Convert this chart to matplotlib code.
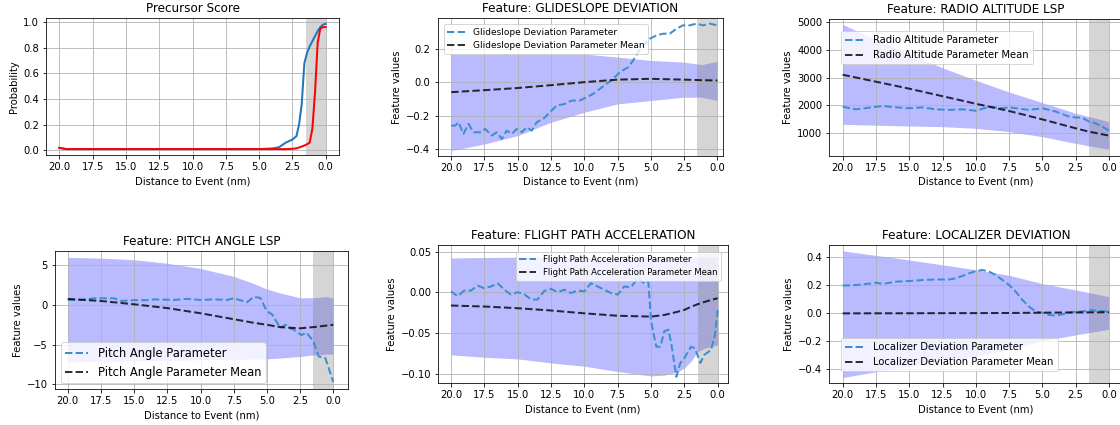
import numpy as np
import matplotlib
matplotlib.use("Agg")
import matplotlib.pyplot as plt

# ---- data ----
# panel 1: precursor score
score_x = [20, 19.5, 15, 10, 5, 4, 3.5, 3, 2.5, 2.2, 2.0, 1.8, 1.6, 1.4, 1.2, 1.0, 0.8, 0.6, 0.4, 0.2, 0.0]
score_blue = [0.02, 0.01, 0.01, 0.01, 0.01, 0.015, 0.025, 0.06, 0.085, 0.11, 0.2, 0.36, 0.68, 0.76, 0.81,
              0.85, 0.89, 0.93, 0.96, 0.98, 0.985]
score_red = [0.02, 0.01, 0.01, 0.01, 0.01, 0.01, 0.01, 0.01, 0.012, 0.016, 0.022, 0.03, 0.038, 0.048, 0.06,
             0.17, 0.45, 0.84, 0.95, 0.96, 0.96]

# panel 2: glideslope deviation
gs_x = [20.0, 19.7, 19.45, 19.08, 18.7, 18.33, 17.83, 17.45, 16.95, 16.58, 16.2, 15.83, 15.45, 15.08, 14.7,
        14.33, 13.95, 13.58, 13.08, 12.58, 12.08, 11.45, 10.95, 10.33, 9.83, 9.33, 8.83, 8.33, 7.83, 7.33,
        6.7, 6.33, 5.95, 5.58, 5.08, 4.58, 4.08, 3.58, 3.08, 2.58, 2.08, 1.58, 1.08, 0.58, 0.0]
gs_param = [-0.26, -0.26, -0.24, -0.31, -0.25, -0.30, -0.30, -0.28, -0.32, -0.30, -0.34, -0.29, -0.31, -0.28,
            -0.30, -0.27, -0.29, -0.24, -0.22, -0.18, -0.14, -0.13, -0.11, -0.11, -0.09, -0.07, -0.04, -0.01,
            0.02, 0.06, 0.09, 0.13, 0.18, 0.22, 0.26, 0.28, 0.29, 0.29, 0.32, 0.34, 0.34, 0.35, 0.34, 0.35, 0.34]
gs_band_x = [20, 17.5, 15, 12.5, 10, 7.5, 5, 2.5, 1.2, 0]
gs_upper = [0.17, 0.17, 0.17, 0.17, 0.168, 0.15, 0.13, 0.12, 0.105, 0.125]
gs_lower = [-0.41, -0.37, -0.32, -0.24, -0.18, -0.13, -0.11, -0.09, -0.09, -0.11]
gs_mean = [-0.06, -0.048, -0.035, -0.018, 0.0, 0.015, 0.02, 0.015, 0.012, 0.01]

# panel 3: radio altitude
ra_x = [20, 19, 18, 17, 16, 15, 14, 13, 12, 11, 10, 9, 8, 7.5, 7, 6, 5, 4, 3, 2.5, 2, 1.5, 1, 0.5, 0]
ra_param = [1955, 1860, 1920, 1980, 1930, 1900, 1930, 1860, 1840, 1860, 1810, 1950, 1900, 1930, 1900,
            1840, 1900, 1780, 1600, 1570, 1560, 1420, 1360, 1240, 1100]
ra_band_x = [20, 17.5, 15, 12.5, 10, 7.5, 5, 2.5, 1.5, 0]
ra_upper = [4900, 4350, 3850, 3350, 2900, 2480, 2100, 1720, 1600, 1420]
ra_lower = [1320, 1290, 1263, 1240, 1180, 1060, 880, 640, 550, 430]
ra_mean = [3100, 2850, 2600, 2330, 2060, 1800, 1500, 1180, 1060, 920]

# panel 4: pitch angle
pa_x = [20, 19, 18, 17, 16.5, 16, 15, 14, 13.5, 12, 11, 10, 9, 8, 7.5, 6.5, 6, 5.5, 5, 4.6, 4, 3.6,
        3.2, 3, 2.4, 2, 1.5, 1.1, 0.6, 0]
pa_param = [0.63, 0.63, 0.84, 0.84, 0.84, 0.5, 0.6, 0.6, 0.7, 0.63, 0.76, 0.63, 0.7, 0.63, 0.84, 0.34, 1.0,
            0.9, -0.8, -1.2, -2.9, -2.5, -3.0, -3.1, -3.8, -3.5, -4.6, -6.5, -6.7, -9.7]
pa_band_x = [20, 17.5, 15, 12.5, 10, 7.5, 6, 5, 4, 2.5, 1.5, 0.5, 0]
pa_upper = [6.0, 5.9, 5.7, 5.25, 4.6, 3.6, 2.7, 2.0, 1.5, 0.9, 0.9, 1.05, 0.9]
pa_lower = [-7.2, -7.1, -7.0, -7.0, -6.9, -6.9, -6.8, -6.8, -6.7, -6.5, -6.3, -6.2, -6.2]
pa_mean = [0.76, 0.5, 0.08, -0.4, -1.05, -1.8, -2.25, -2.5, -2.8, -2.95, -2.8, -2.6, -2.5]

# panel 5: flight path acceleration
fp_x = [20, 19.5, 19, 18.5, 18, 17.5, 17, 16.5, 16, 15.5, 15, 14.5, 14, 13.5, 13, 12.5, 12, 11.5, 11, 10.5,
        10, 9.5, 9, 8.5, 8, 7.5, 7, 6.5, 6, 5.5, 5.2, 5, 4.6, 4.3, 4, 3.7, 3.5, 3.1, 2.8, 2.5, 2.0, 1.7,
        1.5, 1.3, 1.0, 0.5, 0.2, 0]
fp_param = [0.001, -0.005, 0.002, 0.002, 0.008, 0.005, 0.007, 0.011, 0.003, -0.003, 0.0, -0.0025, -0.009,
            -0.009, 0.0016, 0.004, 0.0, 0.003, -0.001, 0.002, 0.001, 0.011, 0.007, 0.003, -0.001, -0.003,
            0.007, 0.006, 0.017, 0.011, 0.013, -0.036, -0.067, -0.067, -0.048, -0.046, -0.061, -0.104,
            -0.087, -0.081, -0.067, -0.069, -0.078, -0.087, -0.077, -0.071, -0.052, -0.022]
fp_band_x = [20, 17.5, 15, 12.5, 10, 7.5, 5, 4, 3, 2.5, 2.0, 1.5, 1.0, 0]
fp_upper = [0.042, 0.0426, 0.043, 0.043, 0.043, 0.043, 0.043, 0.043, 0.043, 0.043, 0.043, 0.043, 0.043, 0.043]
fp_lower = [-0.077, -0.080, -0.082, -0.087, -0.091, -0.0975, -0.103, -0.102, -0.098, -0.093, -0.085,
            -0.073, -0.069, -0.065]
fp_mean = [-0.0164, -0.0176, -0.0197, -0.0225, -0.026, -0.029, -0.030, -0.028, -0.024, -0.0217, -0.018,
           -0.0148, -0.012, -0.0074]

# panel 6: localizer deviation
lc_x = [20, 19, 18, 17.5, 17, 16, 15, 14, 13, 12, 11.5, 11, 10.5, 10, 9.5, 9, 8.5, 8, 7.5, 7, 6.5, 6, 5.5,
        5, 4.5, 4, 3.5, 3, 2.5, 2, 1.5, 1, 0.5, 0]
lc_param = [0.196, 0.2, 0.21, 0.217, 0.208, 0.224, 0.229, 0.236, 0.24, 0.24, 0.248, 0.265, 0.284, 0.30,
            0.308, 0.296, 0.272, 0.236, 0.2, 0.153, 0.093, 0.045, 0.01, 0.002, -0.014, -0.019, -0.01,
            0.002, 0.01, 0.01, 0.021, 0.017, 0.014, 0.01]
lc_band_x = [20, 15, 10, 7.5, 5, 2.5, 0]
lc_upper = [0.445, 0.38, 0.31, 0.27, 0.21, 0.165, 0.117]
lc_lower = [-0.463, -0.38, -0.31, -0.26, -0.2, -0.157, -0.117]
lc_mean = [-0.003, -0.002, -0.001, 0.0, 0.002, 0.004, 0.005]

PARAM_BLUE = "#3b8fce"

# figure (notebook-style 72 dpi output, right column runs off the edge)
W, H = 1120, 425
fig = plt.figure(figsize=(W / 72, H / 72), dpi=72)


def px_axes(left, top, right, bottom):
    return fig.add_axes([left / W, 1 - bottom / H, (right - left) / W, (bottom - top) / H])


def feature_panel(ax, title, x, param, bx, upper, lower, mean, name, loc, fs, xlim, ylim, pad=0.5):
    ax.fill_between(bx, lower, upper, color="blue", alpha=0.27, lw=0)
    ax.plot(x, param, "--", color=PARAM_BLUE, lw=2, label=name + " Parameter")
    ax.plot(bx, mean, "--", color="k", alpha=0.8, lw=2, label=name + " Parameter Mean")
    ax.axvspan(1.5, 0, color="gray", alpha=0.33, lw=0)
    ax.set_xlim(*xlim)
    ax.set_ylim(*ylim)
    ax.grid(True)
    ax.set_title(title)
    ax.set_xlabel("Distance to Event (nm)")
    ax.set_ylabel("Feature values")
    ax.legend(loc=loc, fontsize=fs, borderaxespad=pad)


ax1 = px_axes(46, 18, 339, 155)
ax1.plot(score_x, score_blue, color="#1f77b4", lw=2)
ax1.plot(score_x, score_red, color="red", lw=2)
ax1.axvspan(1.5, 0, color="gray", alpha=0.33, lw=0)
ax1.set_xlim(21, -1)
ax1.set_ylim(-0.036, 1.031)
ax1.grid(True)
ax1.set_title("Precursor Score")
ax1.set_xlabel("Distance to Event (nm)")
ax1.set_ylabel("Probability")

ax2 = px_axes(437.5, 18, 723, 156)
feature_panel(ax2, "Feature: GLIDESLOPE DEVIATION", gs_x, gs_param, gs_band_x, gs_upper, gs_lower, gs_mean,
              "Glideslope Deviation", "upper left", 9, (21.03, -0.42), (-0.442, 0.384), pad=0.7)

ax3 = px_axes(829.3, 19, 1122.3, 156)
feature_panel(ax3, "Feature: RADIO ALTITUDE LSP", ra_x, ra_param, ra_band_x, ra_upper, ra_lower, ra_mean,
              "Radio Altitude", "upper left", 10, (21, -1), (188, 5096), pad=1.2)

ax4 = px_axes(55, 251, 348.3, 389)
feature_panel(ax4, "Feature: PITCH ANGLE LSP", pa_x, pa_param, pa_band_x, pa_upper, pa_lower, pa_mean,
              "Pitch Angle", "lower left", 11.5, (20.96, -1.13), (-10.6, 6.8))

ax5 = px_axes(438.3, 245, 727.7, 383.3)
feature_panel(ax5, "Feature: FLIGHT PATH ACCELERATION", fp_x, fp_param, fp_band_x, fp_upper, fp_lower, fp_mean,
              "Flight Path Acceleration", "upper right", 8.5, (20.95, -0.75), (-0.112, 0.058), pad=0.8)

ax6 = px_axes(829.3, 245, 1122.3, 383.3)
feature_panel(ax6, "Feature: LOCALIZER DEVIATION", lc_x, lc_param, lc_band_x, lc_upper, lc_lower, lc_mean,
              "Localizer Deviation", "lower left", 10, (21, -1), (-0.504, 0.487), pad=1.2)

fig.savefig("out.png", dpi=72)
